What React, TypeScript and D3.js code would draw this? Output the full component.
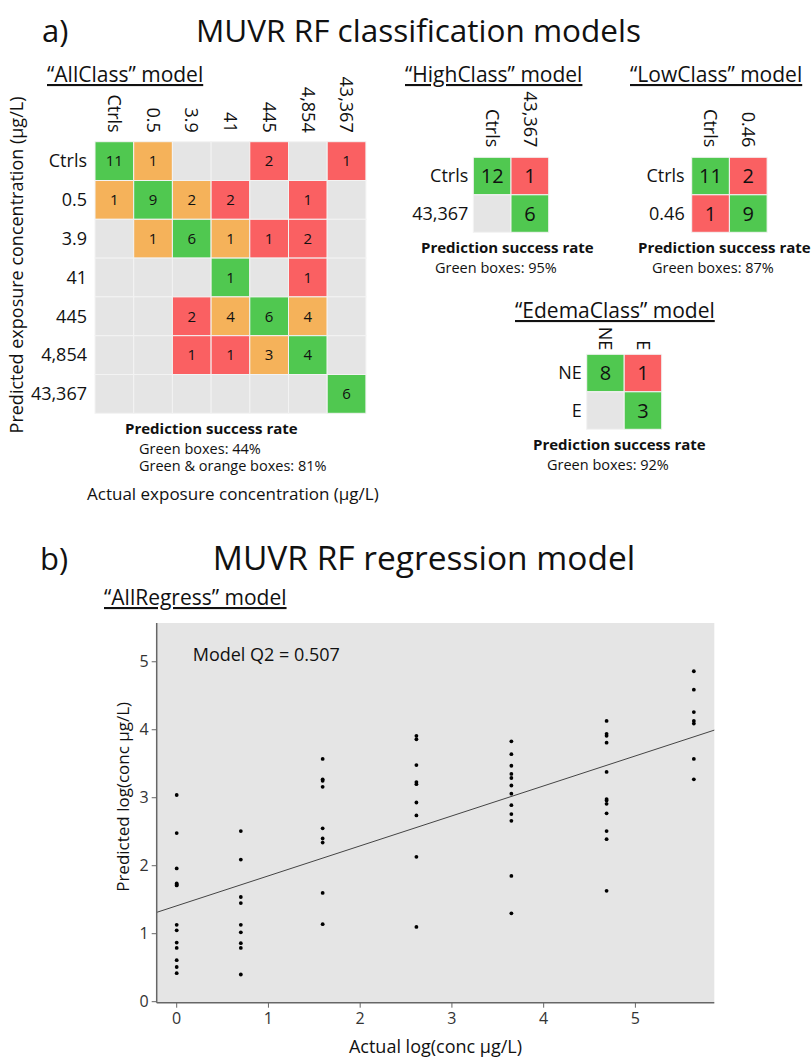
import * as d3 from 'd3';

// confusion matrices: rows = predicted, columns = actual
const allClassLabels = ['Ctrls', '0.5', '3.9', '41', '445', '4,854', '43,367'];
const allClassCounts = [
    [11, 1, null, null, 2, null, 1],
    [1, 9, 2, 2, null, 1, null],
    [null, 1, 6, 1, 1, 2, null],
    [null, null, null, 1, null, 1, null],
    [null, null, 2, 4, 6, 4, null],
    [null, null, 1, 1, 3, 4, null],
    [null, null, null, null, null, null, 6]
];
const highClassLabels = ['Ctrls', '43,367'];
const highClassCounts = [
    [12, 1],
    [null, 6]
];
const lowClassLabels = ['Ctrls', '0.46'];
const lowClassCounts = [
    [11, 2],
    [1, 9]
];
const edemaLabels = ['NE', 'E'];
const edemaCounts = [
    [8, 1],
    [null, 3]
];

// regression: actual log(conc) per exposure group and predicted values
const actualLog = [0, 0.699, 1.591, 2.613, 3.648, 4.686, 5.637];
const predictedCtrls = [3.04, 2.48, 1.96, 1.74, 1.72, 1.71, 1.13, 1.05, 0.87, 0.79, 0.61, 0.51, 0.42];
const predicted05 = [2.51, 2.09, 1.54, 1.45, 1.13, 1.02, 0.86, 0.79, 0.4];
const predicted39 = [3.57, 3.27, 3.25, 3.16, 2.55, 2.4, 2.34, 1.6, 1.14];
const predicted41 = [3.91, 3.86, 3.48, 3.23, 3.2, 2.93, 2.74, 2.13, 1.1];
const predicted445 = [3.83, 3.64, 3.47, 3.35, 3.29, 3.18, 3.06, 2.89, 2.76, 2.66, 1.85, 1.3];
const predicted4854 = [4.13, 3.94, 3.91, 3.81, 3.38, 2.98, 2.96, 2.91, 2.77, 2.51, 2.39, 1.63];
const predicted43367 = [4.86, 4.59, 4.26, 4.13, 4.09, 3.57, 3.27];
const predictedGroups = [predictedCtrls, predicted05, predicted39, predicted41, predicted445, predicted4854, predicted43367];
const xTicks = [0, 1, 2, 3, 4, 5];
const yTicks = [0, 1, 2, 3, 4, 5];
const fitIntercept = 1.41;
const fitSlope = 0.441;
const modelQ2 = '0.507';

const GREEN = '#50c850';
const ORANGE = '#f5b25a';
const RED = '#fa6062';
const GREY = '#e5e5e5';

function cellColor(v, i, j, adjacentOrange) {
    if (v == null) return GREY;
    if (i === j) return GREEN;
    if (adjacentOrange && Math.abs(i - j) === 1) return ORANGE;
    return RED;
}

function Matrix({ labels, counts, x, y, cw, ch, cellFont, labelFont, rowGap, colGap, adjacentOrange = false }) {
    const n = labels.length;
    const xs = d3.scaleBand().domain(d3.range(n)).range([x, x + cw * n]);
    const ys = d3.scaleBand().domain(d3.range(n)).range([y, y + ch * n]);
    const bw = xs.bandwidth();
    const bh = ys.bandwidth();
    return (
        <g>
            {counts.map((row, i) =>
                row.map((v, j) => (
                    <g key={`${i}-${j}`}>
                        <rect
                            x={xs(j)}
                            y={ys(i)}
                            width={bw}
                            height={bh}
                            fill={cellColor(v, i, j, adjacentOrange)}
                            stroke="#f3f3f3"
                            strokeWidth={1}
                        />
                        {v != null && (
                            <text
                                x={xs(j) + bw / 2}
                                y={ys(i) + bh / 2}
                                dy="0.35em"
                                textAnchor="middle"
                                fontSize={cellFont}
                                fill="#111"
                            >
                                {v}
                            </text>
                        )}
                    </g>
                ))
            )}
            {labels.map((l, j) => (
                <text
                    key={'c' + j}
                    transform={`translate(${xs(j) + bw / 2},${y - colGap}) rotate(90)`}
                    textAnchor="end"
                    dy="0.35em"
                    fontSize={labelFont}
                >
                    {l}
                </text>
            ))}
            {labels.map((l, i) => (
                <text key={'r' + i} x={x - rowGap} y={ys(i) + bh / 2} dy="0.35em" textAnchor="end" fontSize={labelFont}>
                    {l}
                </text>
            ))}
        </g>
    );
}

function Success({ x, y, lines }) {
    return (
        <g>
            <text x={x} y={y} fontSize={15} fontWeight="bold">
                Prediction success rate
            </text>
            {lines.map((l, i) => (
                <text key={i} x={x + 14} y={y + 19.5 + i * 17.5} fontSize={14.5}>
                    {l}
                </text>
            ))}
        </g>
    );
}

export default function App() {
    // scatter plot geometry
    const left = 156.7;
    const right = 714.3;
    const top = 623;
    const bottom = 1002.7;
    const xScale = d3.scaleLinear().domain([-0.218, 5.86]).range([left, right]);
    const yScale = d3.scaleLinear().domain([-0.015, 5.57]).range([bottom, top]);
    const fitLine = d3
        .line()
        .x((d) => xScale(d))
        .y((d) => yScale(fitIntercept + fitSlope * d));

    return (
        <svg
            width={811}
            height={1059}
            style={{ position: 'absolute', left: 0, top: 0, display: 'block' }}
            fontFamily="'Open Sans', sans-serif"
            fill="#111"
        >
            <rect width={811} height={1059} fill="#fff" />

            {/* a) classification */}
            <text x={42} y={42} fontSize={31}>
                a)
            </text>
            <text x={418.5} y={42} fontSize={31.5} textAnchor="middle">
                MUVR RF classification models
            </text>

            <text x={47} y={82} fontSize={21} textDecoration="underline">
                “AllClass” model
            </text>
            <Matrix
                labels={allClassLabels}
                counts={allClassCounts}
                x={95}
                y={141.7}
                cw={38.7}
                ch={38.8}
                cellFont={15}
                labelFont={18}
                rowGap={8}
                colGap={9}
                adjacentOrange
            />
            <text transform="translate(23,265) rotate(-90)" textAnchor="middle" fontSize={18}>
                Predicted exposure concentration (μg/L)
            </text>
            <Success x={125} y={434} lines={['Green boxes: 44%', 'Green & orange boxes: 81%']} />
            <text x={87} y={500} fontSize={17}>
                Actual exposure concentration (μg/L)
            </text>

            <text x={405} y={82} fontSize={21} textDecoration="underline">
                “HighClass” model
            </text>
            <Matrix
                labels={highClassLabels}
                counts={highClassCounts}
                x={473.3}
                y={157.3}
                cw={37.7}
                ch={37.5}
                cellFont={20}
                labelFont={18}
                rowGap={5}
                colGap={10}
            />
            <Success x={421} y={253} lines={['Green boxes: 95%']} />

            <text x={630} y={82} fontSize={21} textDecoration="underline">
                “LowClass” model
            </text>
            <Matrix
                labels={lowClassLabels}
                counts={lowClassCounts}
                x={691.7}
                y={157.3}
                cw={37.7}
                ch={37.5}
                cellFont={20}
                labelFont={18}
                rowGap={7}
                colGap={10}
            />
            <Success x={638} y={253} lines={['Green boxes: 87%']} />

            <text x={515} y={318} fontSize={21} textDecoration="underline">
                “EdemaClass” model
            </text>
            <Matrix
                labels={edemaLabels}
                counts={edemaCounts}
                x={586.7}
                y={354.3}
                cw={37.5}
                ch={37.5}
                cellFont={20}
                labelFont={18}
                rowGap={5}
                colGap={4}
            />
            <Success x={533} y={450} lines={['Green boxes: 92%']} />

            {/* b) regression */}
            <text x={40} y={570} fontSize={31}>
                b)
            </text>
            <text x={424} y={570} fontSize={33.5} textAnchor="middle">
                MUVR RF regression model
            </text>
            <text x={104} y={605} fontSize={21} textDecoration="underline">
                “AllRegress” model
            </text>

            <rect x={left} y={top} width={right - left} height={bottom - top} fill={GREY} />
            <path d={fitLine(xScale.domain())} fill="none" stroke="#444" strokeWidth={1} />
            {predictedGroups.map((vals, g) =>
                vals.map((v, k) => (
                    <circle key={`${g}-${k}`} cx={xScale(actualLog[g])} cy={yScale(v)} r={1.9} fill="#000" />
                ))
            )}
            <text x={192.7} y={660.7} fontSize={18}>
                Model Q2 = {modelQ2}
            </text>

            <line x1={left} x2={left} y1={top} y2={bottom} stroke="#666" strokeWidth={1.5} />
            <line x1={left} x2={right} y1={bottom} y2={bottom} stroke="#666" strokeWidth={1.5} />
            {yTicks.map((t) => (
                <g key={'y' + t}>
                    <line x1={left - 5} x2={left} y1={yScale(t)} y2={yScale(t)} stroke="#666" />
                    <text x={left - 8} y={yScale(t)} dy="0.35em" textAnchor="end" fontSize={16} fill="#333">
                        {t}
                    </text>
                </g>
            ))}
            {xTicks.map((t) => (
                <g key={'x' + t}>
                    <line x1={xScale(t)} x2={xScale(t)} y1={bottom} y2={bottom + 5} stroke="#666" />
                    <text x={xScale(t)} y={bottom + 21} textAnchor="middle" fontSize={16} fill="#333">
                        {t}
                    </text>
                </g>
            ))}
            <text transform={`translate(129,${(top + bottom) / 2 - 16}) rotate(-90)`} textAnchor="middle" fontSize={17}>
                Predicted log(conc μg/L)
            </text>
            <text x={(left + right) / 2} y={1053} textAnchor="middle" fontSize={18}>
                Actual log(conc μg/L)
            </text>
        </svg>
    );
}
